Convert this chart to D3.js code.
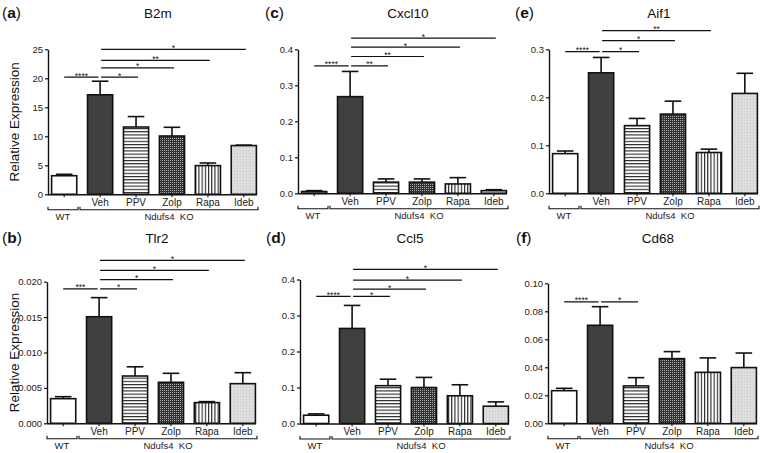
<!DOCTYPE html>
<html><head><meta charset="utf-8">
<script src="https://cdn.jsdelivr.net/npm/d3@7"></script>
<style>body{margin:0;background:#fff}svg{display:block;font-family:"Liberation Sans",Arial,Helvetica,sans-serif}</style>
</head><body><svg id="c" width="764" height="453"></svg>
<script>
const categories = ["WT","Veh","PPV","Zolp","Rapa","Ideb"];
const groupLabels = ["WT","Ndufs4  KO"];
const yLabel = "Relative Expression";

const b2mMean   = [3.2, 17.15, 11.6, 10.05, 4.95, 8.4];
const b2mErr    = [0.25, 2.35, 1.8, 1.5, 0.45, 0.08];
const b2mTicks  = [0,5,10,15,20,25];
const b2mSig    = [[0,1,20.2,"****"],[1,2,20.2,"*"],[1,3,21.8,"*"],[1,4,23.1,"**"],[1,5,25.0,"*"]];

const tlr2Mean  = [0.00348, 0.01505, 0.00668, 0.00579, 0.00292, 0.0056];
const tlr2Err   = [0.00028, 0.0027, 0.0013, 0.00127, 0.00014, 0.00155];
const tlr2Ticks = [0,0.005,0.010,0.015,0.020];
const tlr2Sig   = [[0,1,0.0190,"***"],[1,2,0.0190,"*"],[1,3,0.0203,"*"],[1,4,0.0216,"*"],[1,5,0.0230,"*"]];

const cxcl10Mean  = [0.005, 0.2685, 0.031, 0.031, 0.026, 0.0074];
const cxcl10Err   = [0.0024, 0.07, 0.009, 0.009, 0.0175, 0.0026];
const cxcl10Ticks = [0,0.1,0.2,0.3,0.4];
const cxcl10Sig   = [[0,1,0.354,"****"],[1,2,0.354,"**"],[1,3,0.380,"**"],[1,4,0.406,"*"],[1,5,0.431,"*"]];

const ccl5Mean  = [0.023, 0.264, 0.105, 0.100, 0.077, 0.048];
const ccl5Err   = [0.0037, 0.064, 0.018, 0.028, 0.0306, 0.012];
const ccl5Ticks = [0,0.1,0.2,0.3,0.4];
const ccl5Sig   = [[0,1,0.353,"****"],[1,2,0.353,"*"],[1,3,0.373,"*"],[1,4,0.398,"*"],[1,5,0.428,"*"]];

const aif1Mean  = [0.0826, 0.251, 0.141, 0.165, 0.085, 0.208];
const aif1Err   = [0.0055, 0.032, 0.015, 0.027, 0.007, 0.042];
const aif1Ticks = [0,0.1,0.2,0.3];
const aif1Sig   = [[0,1,0.295,"****"],[1,2,0.295,"*"],[1,3,0.318,"*"],[1,4,0.339,"**"]];

const cd68Mean  = [0.0233, 0.070, 0.0267, 0.0462, 0.0364, 0.0398];
const cd68Err   = [0.0017, 0.0133, 0.0059, 0.005, 0.0103, 0.0104];
const cd68Ticks = [0,0.02,0.04,0.06,0.08,0.10];
const cd68Sig   = [[0,1,0.0867,"****"],[1,2,0.0867,"*"]];

// layout (positions only)
const panels = [
  {letter:"a", title:"B2m",    mean:b2mMean,    err:b2mErr,    ticks:b2mTicks,    sig:b2mSig,    fmt:d3.format("d"),   ax:48,  y0:194.3, yTop:49.3, top:0,   ylab:true},
  {letter:"c", title:"Cxcl10", mean:cxcl10Mean, err:cxcl10Err, ticks:cxcl10Ticks, sig:cxcl10Sig, fmt:d3.format(".1f"), ax:298, y0:193.3, yTop:49.3, top:0,   ylab:false, lx:265},
  {letter:"e", title:"Aif1",   mean:aif1Mean,   err:aif1Err,   ticks:aif1Ticks,   sig:aif1Sig,   fmt:d3.format(".1f"), ax:549, y0:193.3, yTop:49.3, top:0,   ylab:false, lx:515},
  {letter:"b", title:"Tlr2",   mean:tlr2Mean,   err:tlr2Err,   ticks:tlr2Ticks,   sig:tlr2Sig,   fmt:d3.format(".3f"), ax:47,  y0:423.3, yTop:281.7, top:225, ylab:true},
  {letter:"d", title:"Ccl5",   mean:ccl5Mean,   err:ccl5Err,   ticks:ccl5Ticks,   sig:ccl5Sig,   fmt:d3.format(".1f"), ax:300, y0:423.5, yTop:279.5, top:225, ylab:false, lx:266},
  {letter:"f", title:"Cd68",   mean:cd68Mean,   err:cd68Err,   ticks:cd68Ticks,   sig:cd68Sig,   fmt:d3.format(".2f"), ax:548, y0:423.3, yTop:283.3, top:225, ylab:false, lx:516}
];

const svg = d3.select("#c");
const defs = svg.append("defs");
// patterns
let p = defs.append("pattern").attr("id","hstripe").attr("patternUnits","userSpaceOnUse").attr("width",4).attr("height",3.2);
p.append("rect").attr("width",4).attr("height",3.2).attr("fill","#fff");
p.append("rect").attr("y",0).attr("width",4).attr("height",1.1).attr("fill","#222");
p = defs.append("pattern").attr("id","vstripe").attr("patternUnits","userSpaceOnUse").attr("width",3.2).attr("height",4);
p.append("rect").attr("width",3.2).attr("height",4).attr("fill","#fff");
p.append("rect").attr("x",0).attr("width",1.1).attr("height",4).attr("fill","#222");
p = defs.append("pattern").attr("id","check").attr("patternUnits","userSpaceOnUse").attr("width",2).attr("height",2);
p.append("rect").attr("width",2).attr("height",2).attr("fill","#333");
p.append("rect").attr("width",1).attr("height",1).attr("fill","#aaa");
p = defs.append("pattern").attr("id","dots").attr("patternUnits","userSpaceOnUse").attr("width",3).attr("height",3);
p.append("rect").attr("width",3).attr("height",3).attr("fill","#dedede");
p.append("rect").attr("width",1).attr("height",1).attr("fill","#c4c4c4");

const fills = {WT:"#fff", Veh:"#404040", PPV:"url(#hstripe)", Zolp:"url(#check)", Rapa:"url(#vstripe)", Ideb:"url(#dots)"};

panels.forEach(P => {
  const g = svg.append("g");
  const x = d3.scaleBand().domain(categories).range([P.ax, P.ax+212]).paddingInner(0.3).paddingOuter(0.1);
  const maxT = P.ticks[P.ticks.length-1];
  const y = d3.scaleLinear().domain([0, maxT]).range([P.y0, P.yTop]);

  // panel label
  const lt = g.append("text").attr("x", P.lx !== undefined ? P.lx : 2).attr("y", P.top+18).attr("font-size",15.5).attr("fill","#111");
  lt.append("tspan").text("(");
  lt.append("tspan").attr("font-weight","bold").text(P.letter);
  lt.append("tspan").text(")");
  // title
  g.append("text").attr("x", P.ax+110).attr("y", P.top+18).attr("text-anchor","middle").attr("font-size",13.5).attr("fill","#111").text(P.title);

  // y label
  if (P.ylab) {
    g.append("text").attr("transform",`translate(19,${(P.y0+P.yTop)/2}) rotate(-90)`).attr("text-anchor","middle")
      .attr("font-size",13.5).attr("fill","#111").text(yLabel);
  }

  // bars
  categories.forEach((c,i) => {
    const bx = x(c), bw = x.bandwidth();
    const v = P.mean[i], e = P.err[i];
    const cx = bx + bw/2;
    g.append("line").attr("x1",cx).attr("x2",cx).attr("y1",y(v)).attr("y2",y(v+e)).attr("stroke","#111").attr("stroke-width",1.6);
    g.append("line").attr("x1",cx-bw*0.33).attr("x2",cx+bw*0.33).attr("y1",y(v+e)).attr("y2",y(v+e)).attr("stroke","#111").attr("stroke-width",1.6);
    g.append("rect").attr("x",bx).attr("y",y(v)).attr("width",bw).attr("height",P.y0-y(v))
      .attr("fill",fills[c]).attr("stroke","#111").attr("stroke-width",1.6);
  });

  // y axis
  const ya = g.append("g").attr("transform",`translate(${P.ax},0)`)
    .call(d3.axisLeft(y).tickValues(P.ticks).tickFormat(P.fmt).tickSize(3).tickSizeOuter(0));
  ya.select(".domain").attr("stroke","#111").attr("stroke-width",1.4);
  ya.selectAll(".tick line").attr("stroke","#111").attr("stroke-width",1.2);
  ya.selectAll(".tick text").attr("font-size",9.5).attr("fill","#222").attr("font-family","Liberation Sans, Arial").attr("dx",1);

  // x axis
  const xa = g.append("g").attr("transform",`translate(0,${P.y0})`)
    .call(d3.axisBottom(x).tickSize(3).tickSizeOuter(0).tickFormat(d => d === "WT" ? "" : d));
  xa.select(".domain").attr("stroke","#111").attr("stroke-width",1.4).attr("d",`M${P.ax},0.5H${P.ax+209}`);
  xa.selectAll(".tick line").attr("stroke","#111").attr("stroke-width",1.1);
  xa.selectAll(".tick text").attr("font-size",10).attr("fill","#222").attr("font-family","Liberation Sans, Arial").attr("dy","0.55em");

  // group brackets
  const by = P.y0 + 15.5;
  const brackets = [[P.ax, P.ax+30, groupLabels[0]], [P.ax+32, P.ax+210, groupLabels[1]]];
  brackets.forEach(([a,b,t]) => {
    g.append("path").attr("d",`M${a},${by-3}V${by}H${b}V${by-3}`).attr("fill","none").attr("stroke","#111").attr("stroke-width",1.1);
    g.append("text").attr("x",(a+b)/2).attr("y",by+10).attr("text-anchor","middle").attr("font-size",9.5).attr("fill","#222").attr("xml:space","preserve").text(t);
  });

  // significance
  P.sig.forEach(([i,j,v,t]) => {
    const xi = x(categories[i]) + x.bandwidth()/2;
    const xj = x(categories[j]) + x.bandwidth()/2;
    let a, b;
    if (i === 0) { a = xi; b = xj - 1.5; } else { a = xi + 1; b = xj + 2; }
    const yy = y(v);
    g.append("line").attr("x1",a).attr("x2",b).attr("y1",yy).attr("y2",yy).attr("stroke","#111").attr("stroke-width",1.2);
    g.append("text").attr("x",(a+b)/2).attr("y",yy+1.5).attr("text-anchor","middle").attr("font-size",8.5).attr("fill","#111").text(t);
  });
});
</script></body></html>
